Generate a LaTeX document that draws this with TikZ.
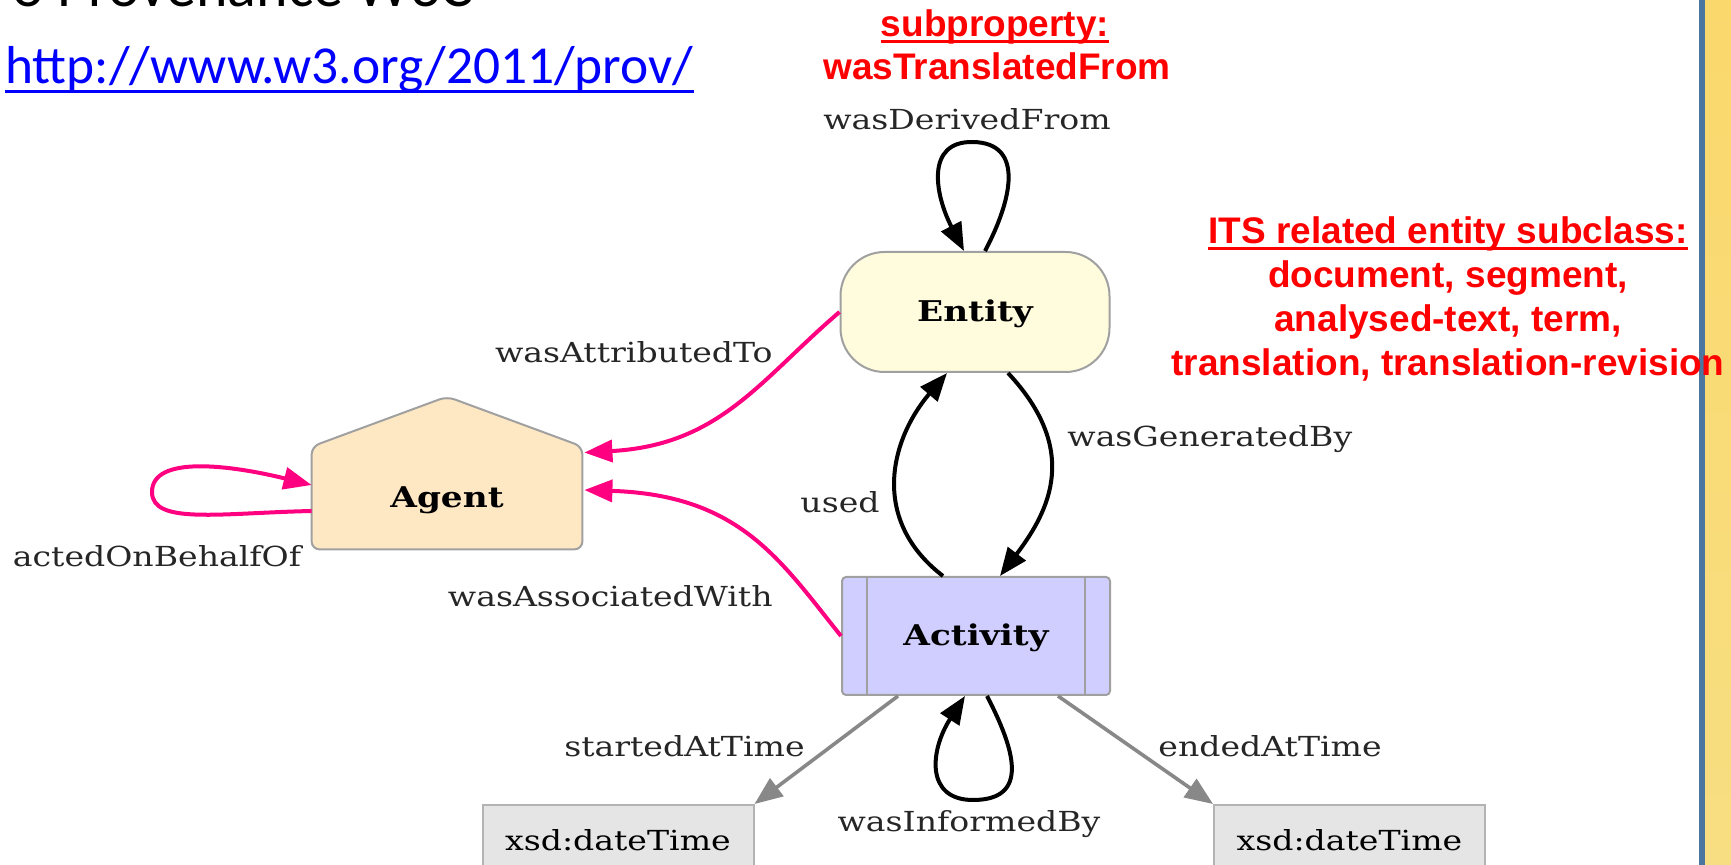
\documentclass[tikz,border=0pt]{standalone}
\usepackage{fontspec}
\usepackage{tikz}
\usetikzlibrary{arrows.meta,calc,backgrounds}

\newfontfamily\graphfont[FakeStretch=1.2]{DejaVu Serif}
\newfontfamily\notefont{Liberation Sans}
\newfontfamily\slidefont{Carlito}

\definecolor{provpink}{RGB}{255,0,128}
\definecolor{entityfill}{RGB}{255,252,221}
\definecolor{agentfill}{RGB}{254,232,196}
\definecolor{activityfill}{RGB}{207,206,255}
\definecolor{nodeline}{RGB}{160,160,160}
\definecolor{timefill}{RGB}{229,229,229}
\definecolor{timeline}{RGB}{136,136,136}
\definecolor{barblue}{RGB}{74,118,160}
\definecolor{bartop}{RGB}{250,216,108}
\definecolor{barmid}{RGB}{242,235,216}
\definecolor{barbottom}{RGB}{248,222,130}

\tikzset{
  every node/.style={inner sep=0pt},
  provlabel/.style={anchor=base, text=black!85, font=\graphfont\fontsize{13.8}{16}\selectfont},
  provnode/.style={draw=nodeline, line width=1pt, text height=10pt, text depth=0pt,
    font=\graphfont\bfseries\fontsize{14.3}{16}\selectfont},
  entitynode/.style={provnode, fill=entityfill, rounded corners=22pt,
    minimum width=134.5pt, minimum height=60pt},
  activitynode/.style={provnode, fill=activityfill, rounded corners=2pt,
    minimum width=134pt, minimum height=59pt},
  agentnode/.style={text height=10pt, text depth=0pt, minimum width=135pt, minimum height=51pt,
    font=\graphfont\bfseries\fontsize{14.3}{16}\selectfont},
  agentshape/.style={draw=nodeline, line width=1pt, fill=agentfill, rounded corners=4pt},
  timenode/.style={draw=nodeline!80, line width=1pt, fill=timefill, text height=10pt, text depth=0pt,
    minimum width=135.5pt, minimum height=35pt, font=\graphfont\fontsize{13.8}{16}\selectfont},
  provedge/.style={line width=2pt, -{Triangle[length=14pt,width=11pt]}},
  derivededge/.style={provedge, black},
  attredge/.style={provedge, provpink},
  timeedge/.style={provedge, timeline, line width=1.8pt},
  note/.style={anchor=base, text=red, font=\notefont\bfseries\fontsize{18.5}{20}\selectfont},
  noteline/.style={red, line width=1.5pt}
}

\begin{document}
\begin{tikzpicture}[x=0.5pt,y=-0.5pt]
\useasboundingbox (0,0) rectangle (1731,865);
\clip (0,0) rectangle (1731,865);

% slide frame on the right
\fill[barblue] (1699,0) rectangle (1705,865);
\shade[top color=bartop, middle color=barmid, bottom color=barbottom] (1705,0) rectangle (1731,865);

% slide heading and link
\node[anchor=base west, font=\slidefont\fontsize{30}{36}\selectfont] (title) at (12,7) {o Provenance W3C};
\node[anchor=base west, text=blue, font=\slidefont\fontsize{26.7}{30}\selectfont] (url) at (5,84) {http://www.w3.org/2011/prov/};
\draw[blue, line width=1.5pt] ($(url.base west)+(0,8)$) -- ($(url.base east)+(0,8)$);

% nodes
\node[entitynode] (entity) at (975,312) {Entity};
\node[activitynode] (activity) at (976,636) {Activity};
\node[agentnode] (agent) at (447,498) {Agent};
\node[timenode] (start) at (618,840) {xsd:dateTime};
\node[timenode] (end) at (1349.5,840) {xsd:dateTime};

\begin{scope}[on background layer]
\path[agentshape] (agent.south west) -- (agent.north west) -- ($(agent.north)+(0,-50)$)
  -- (agent.north east) -- (agent.south east) -- cycle;
\end{scope}
\foreach \side/\off in {west/26, east/-26}
  \draw[draw=nodeline, line width=1pt] ($(activity.north \side)+(\off,0)$) -- ($(activity.south \side)+(\off,0)$);

% edges
\draw[derivededge] ($(entity.north)+(10,0)$) .. controls (1012,200) and (1025,143) .. (973,142)
  .. controls (925,141) and (935,195) .. ($(entity.north)+(-11,0)$);
\draw[derivededge] ($(entity.south)+(33,0)$) .. controls (1080,450) and (1050,510) .. ($(activity.north)+(24,0)$);
\draw[derivededge] ($(activity.north)+(-33,0)$) .. controls (870,520) and (890,440) .. ($(entity.south)+(-28,0)$);
\draw[derivededge] ($(activity.south)+(11,0)$) .. controls (1015,750) and (1030,800) .. (973,800)
  .. controls (925,800) and (930,750) .. ($(activity.south)+(-11,0)$);
\draw[attredge] (entity.west) .. controls (760,380) and (720,445) .. ($(agent.north east)+(2,6)$);
\draw[attredge] (activity.west) .. controls (780,560) and (740,495) .. ($(agent.east)+(2,-8)$);
\draw[attredge] ($(agent.west)+(0,13)$) .. controls (220,513) and (152,525) .. (152,492)
  .. controls (152,455) and (230,465) .. ($(agent.west)+(0,-13)$);
\draw[timeedge] ($(activity.south)+(-78,0)$) -- (start.north east);
\draw[timeedge] ($(activity.south)+(82,0)$) -- (end.north west);

% edge labels
\node[provlabel] (lblDerived) at (967,130) {wasDerivedFrom};
\node[provlabel, anchor=base east] (lblAttributed) at (773,363) {wasAttributedTo};
\node[provlabel, anchor=base east] (lblAssociated) at (773,607) {wasAssociatedWith};
\node[provlabel, anchor=base east] (lblUsed) at (880,513) {used};
\node[provlabel, anchor=base west] (lblGenerated) at (1067,447) {wasGeneratedBy};
\node[provlabel] (lblActed) at (157,567) {actedOnBehalfOf};
\node[provlabel, anchor=base east] (lblStarted) at (805,757) {startedAtTime};
\node[provlabel, anchor=base west] (lblEnded) at (1158,757) {endedAtTime};
\node[provlabel] (lblInformed) at (969,832) {wasInformedBy};

% red notes
\node[note] (subprop) at (995,37) {subproperty:};
\draw[noteline] ($(subprop.base west)+(0,5)$) -- ($(subprop.base east)+(0,5)$);
\node[note] (translated) at (997,80) {wasTranslatedFrom};
\foreach \txt [count=\i] in {ITS related entity subclass:, {document, segment,}, {analysed-text, term,}, {translation, translation-revision}}
  \node[note] (its\i) at (1448,200+44*\i) {\txt};
\draw[noteline] ($(its1.base west)+(0,5)$) -- ($(its1.base east)+(0,5)$);
\end{tikzpicture}
\end{document}
